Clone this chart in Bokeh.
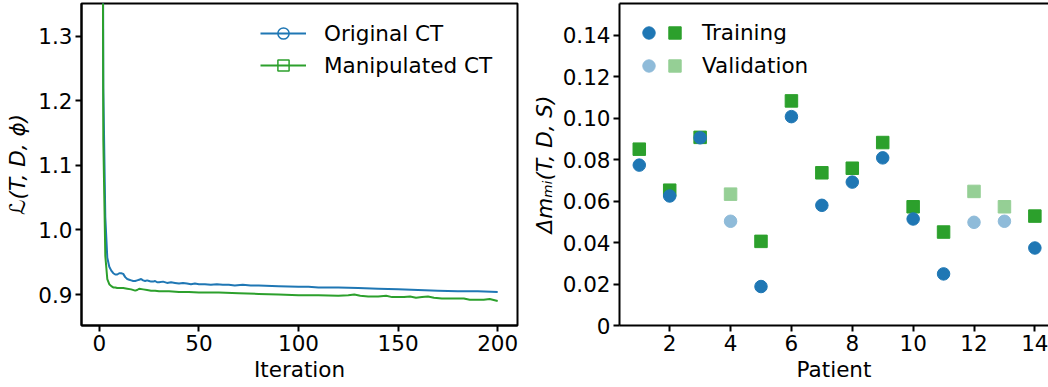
from bokeh.plotting import figure
from bokeh.layouts import row
from bokeh.models import Range1d, FixedTicker, Legend, LegendItem, LinearAxis
from bokeh.embed import file_html
from bokeh.resources import INLINE

# ---------------- data ----------------
# left panel: loss curves
iter_orig = [1, 2, 3, 4, 5, 6, 7, 8, 9, 10, 11, 12, 13, 14, 15, 16, 17, 18, 19, 20,
             21, 22, 23, 24, 25, 26, 27, 28, 29, 30, 32, 34, 36, 38, 40, 42, 44, 46, 48, 50,
             53, 56, 59, 62, 65, 68, 72, 76, 80, 90, 100, 105, 110, 120, 130, 140, 150,
             160, 170, 180, 190, 200]
loss_orig = [2.6, 1.22, 1.02, 0.957, 0.943, 0.937, 0.933, 0.931, 0.931, 0.933, 0.933, 0.932,
             0.927, 0.924, 0.923, 0.922, 0.921, 0.921, 0.922, 0.923, 0.924, 0.922, 0.921,
             0.922, 0.921, 0.920, 0.920, 0.921, 0.919, 0.919, 0.920, 0.918, 0.919, 0.918,
             0.917, 0.918, 0.917, 0.916, 0.917, 0.916, 0.916, 0.915, 0.916, 0.915, 0.915,
             0.914, 0.915, 0.914, 0.914, 0.913, 0.912, 0.912, 0.911, 0.911, 0.910, 0.909,
             0.908, 0.907, 0.906, 0.905, 0.905, 0.904]
iter_manip = [1, 2, 3, 4, 5, 6, 7, 8, 9, 10, 12, 14, 16, 18, 19, 20, 22, 24, 26, 28, 30,
              35, 40, 45, 50, 55, 60, 70, 80, 90, 100, 110, 120, 125, 128, 131, 135, 140,
              144, 147, 150, 153, 156, 159, 162, 165, 168, 172, 176, 180, 183, 186, 190,
              193, 196, 200]
loss_manip = [2.4, 1.14, 0.96, 0.924, 0.916, 0.913, 0.911, 0.911, 0.910, 0.910, 0.910,
              0.909, 0.908, 0.906, 0.907, 0.909, 0.908, 0.907, 0.906, 0.906, 0.905, 0.905,
              0.904, 0.904, 0.903, 0.903, 0.903, 0.902, 0.901, 0.900, 0.899, 0.899, 0.898,
              0.899, 0.900, 0.898, 0.897, 0.897, 0.898, 0.896, 0.896, 0.896, 0.897, 0.895,
              0.896, 0.897, 0.895, 0.894, 0.894, 0.894, 0.894, 0.892, 0.892, 0.892, 0.893,
              0.890]
series_labels = ["Original CT", "Manipulated CT"]
left_xticks = [0, 50, 100, 150, 200]
left_yticks = [0.9, 1.0, 1.1, 1.2, 1.3]
left_yticklabels = ["0.9", "1.0", "1.1", "1.2", "1.3"]
left_xlabel = "Iteration"
left_ylabel = "ℒ(T, D, ϕ)"

# right panel: per-patient differences
train_patients = [1, 2, 3, 5, 6, 7, 8, 9, 10, 11, 14]
train_orig = [0.0774, 0.0625, 0.0906, 0.0188, 0.1008, 0.0580, 0.0692, 0.0809, 0.0514, 0.0249, 0.0374]
train_manip = [0.0851, 0.0653, 0.0908, 0.0406, 0.1084, 0.0737, 0.0759, 0.0883, 0.0573, 0.0451, 0.0528]
val_patients = [4, 12, 13]
val_orig = [0.0503, 0.0498, 0.0503]
val_manip = [0.0634, 0.0647, 0.0573]
group_labels = ["Training", "Validation"]
right_xticks = [2, 4, 6, 8, 10, 12, 14]
right_yticks = [0.0, 0.02, 0.04, 0.06, 0.08, 0.10, 0.12, 0.14]
right_yticklabels = ["0", "0.02", "0.04", "0.06", "0.08", "0.10", "0.12", "0.14"]
right_xlabel = "Patient"
right_ylabel = "Δmₘᵢ(T, D, S)"

# ---------------- style ----------------
FONT = "DejaVu Sans"
FS = "21.5px"
BLUE, GREEN = "#1f77b4", "#2ca02c"
LBLUE, LGREEN = "#8fbbd9", "#95cf95"
H = 387


def style_axis(ax):
    ax.axis_line_width = 2
    ax.axis_line_color = "black"
    ax.major_tick_line_width = 2
    ax.major_tick_line_color = "black"
    ax.major_tick_out = 6
    ax.major_tick_in = 0
    ax.minor_tick_line_color = None
    ax.major_label_text_font = FONT
    ax.major_label_text_font_size = FS
    ax.major_label_text_color = "black"
    ax.major_label_standoff = 3
    ax.axis_label_text_font = FONT
    ax.axis_label_text_font_size = FS
    ax.axis_label_text_font_style = "normal"
    ax.axis_label_text_color = "black"
    ax.axis_label_standoff = 3


# ---------------- left panel ----------------
pL = figure(width=528, height=H, x_range=Range1d(-8.95, 209.95), y_range=Range1d(0.852, 1.351),
            output_backend="svg", toolbar_location=None,
            min_border_left=81, min_border_right=11, min_border_top=3, min_border_bottom=62)
pL.grid.visible = False
pL.outline_line_color = "black"
pL.outline_line_width = 2
for ax in pL.axis:
    style_axis(ax)
pL.xaxis.ticker = FixedTicker(ticks=left_xticks)
pL.yaxis.ticker = FixedTicker(ticks=left_yticks)
pL.yaxis.major_label_overrides = {float(v): s for v, s in zip(left_yticks, left_yticklabels)}
pL.xaxis.axis_label = left_xlabel
pL.yaxis.axis_label = left_ylabel
pL.yaxis.axis_label_text_font_style = "italic"
pL.yaxis.axis_label_standoff = 5

l_orig = pL.line(iter_orig, loss_orig, line_color=BLUE, line_width=2)
l_manip = pL.line(iter_manip, loss_manip, line_color=GREEN, line_width=2)
# marker renderers only used for the legend symbols (hidden in the plot)
m_orig = pL.scatter(iter_orig, loss_orig, marker="circle", size=11, fill_color=None,
                    line_color=BLUE, line_width=1.5, visible=False)
m_manip = pL.scatter(iter_manip, loss_manip, marker="square", size=11, fill_color=None,
                     line_color=GREEN, line_width=1.5, visible=False)

legL = Legend(items=[LegendItem(label=series_labels[0], renderers=[l_orig, m_orig], index=0),
                     LegendItem(label=series_labels[1], renderers=[l_manip, m_manip], index=0)],
              location=(179, 246), glyph_width=46, glyph_height=28, label_height=28,
              label_standoff=18, spacing=4, padding=0, margin=0,
              border_line_color=None, background_fill_alpha=0, inactive_fill_alpha=0,
              label_text_font=FONT, label_text_font_size=FS, label_text_color="black")
pL.add_layout(legL, "center")

# ---------------- right panel ----------------
pR = figure(width=520, height=H, x_range=Range1d(0.35, 14.448), y_range=Range1d(0, 0.1554),
            output_backend="svg", toolbar_location=None,
            min_border_left=90, min_border_right=0, min_border_top=3, min_border_bottom=62)
pR.grid.visible = False
pR.outline_line_color = None
for ax in pR.axis:
    style_axis(ax)
pR.xaxis.ticker = FixedTicker(ticks=right_xticks)
pR.yaxis.ticker = FixedTicker(ticks=right_yticks)
pR.yaxis.major_label_overrides = {float(v): s for v, s in zip(right_yticks, right_yticklabels)}
pR.xaxis.axis_label = right_xlabel
pR.yaxis.axis_label = right_ylabel
pR.yaxis.axis_label_text_font_style = "italic"
pR.yaxis.axis_label_standoff = 3

top_ax = LinearAxis(ticker=FixedTicker(ticks=[]), axis_line_width=2, axis_line_color="black",
                    major_tick_line_color=None, minor_tick_line_color=None,
                    major_tick_out=0, minor_tick_out=0, major_label_standoff=0)
pR.add_layout(top_ax, "above")

sq_train = pR.scatter(train_patients, train_manip, marker="square", size=12.5,
                      fill_color=GREEN, line_color=GREEN)
sq_val = pR.scatter(val_patients, val_manip, marker="square", size=12.5,
                    fill_color=LGREEN, line_color=LGREEN)
ci_train = pR.scatter(train_patients, train_orig, marker="circle", size=12.5,
                      fill_color=BLUE, line_color=BLUE)
ci_val = pR.scatter(val_patients, val_orig, marker="circle", size=12.5,
                    fill_color=LBLUE, line_color=LBLUE)

legC = Legend(items=[LegendItem(label="", renderers=[ci_train]),
                     LegendItem(label="", renderers=[ci_val])],
              location=(13.5, 244.5), glyph_width=31, glyph_height=31, label_height=31,
              label_width=0, label_standoff=0, spacing=2, padding=0, margin=0,
              border_line_color=None, background_fill_alpha=0,
              label_text_font=FONT, label_text_font_size=FS)
legS = Legend(items=[LegendItem(label=group_labels[0], renderers=[sq_train]),
                     LegendItem(label=group_labels[1], renderers=[sq_val])],
              location=(40, 244.5), glyph_width=31, glyph_height=31, label_height=31,
              label_standoff=12, spacing=2, padding=0, margin=0,
              border_line_color=None, background_fill_alpha=0,
              label_text_font=FONT, label_text_font_size=FS, label_text_color="black")
pR.add_layout(legC, "center")
pR.add_layout(legS, "center")

layout = row(pL, pR, spacing=0)
open("out.html", "w").write(file_html(layout, INLINE))
